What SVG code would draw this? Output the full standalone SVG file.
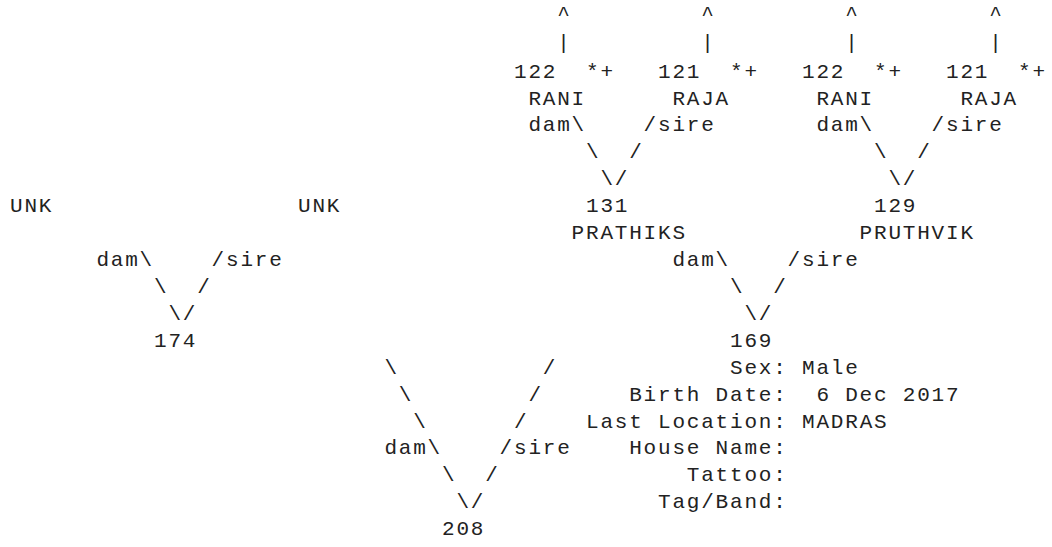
<svg xmlns="http://www.w3.org/2000/svg" width="1052" height="547" viewBox="0 0 1052 547">
<style>
text{font-family:"Liberation Mono","Courier New",monospace;font-size:21px;letter-spacing:1.8px;fill:#222;white-space:pre}
</style>
<rect width="1052" height="547" fill="#fff"/>
<g id="connectors">
<text x="557.2" y="20">^</text><text x="701.2" y="20">^</text><text x="845.2" y="20">^</text><text x="989.2" y="20">^</text>
<text x="557.2" y="49">|</text><text x="701.2" y="49">|</text><text x="845.2" y="49">|</text><text x="989.2" y="49">|</text>
<text x="528.4" y="131.1">dam\</text><text x="643.6" y="131.1">/sire</text>
<text x="816.4" y="131.1">dam\</text><text x="931.6" y="131.1">/sire</text>
<text x="586" y="158.1">\</text><text x="629.2" y="158.1">/</text>
<text x="874" y="158.1">\</text><text x="917.2" y="158.1">/</text>
<text x="600.4" y="185.3">\/</text><text x="888.4" y="185.3">\/</text>
<text x="96.4" y="266.1">dam\</text><text x="211.6" y="266.1">/sire</text>
<text x="672.4" y="266.1">dam\</text><text x="787.6" y="266.1">/sire</text>
<text x="154" y="293">\</text><text x="197.2" y="293">/</text>
<text x="730" y="293">\</text><text x="773.2" y="293">/</text>
<text x="168.4" y="319.9">\/</text><text x="744.4" y="319.9">\/</text>
<text x="384.4" y="373.7">\</text><text x="542.8" y="373.7">/</text>
<text x="398.8" y="400.6">\</text><text x="528.4" y="400.6">/</text>
<text x="413.2" y="427.5">\</text><text x="514" y="427.5">/</text>
<text x="384.4" y="454.4">dam\</text><text x="499.6" y="454.4">/sire</text>
<text x="442" y="481.3">\</text><text x="485.2" y="481.3">/</text>
<text x="456.4" y="508.2">\/</text>
</g>
<g id="node-122-rani-a"><text x="514" y="77.8">122</text><text x="586" y="77.8">*+</text><text x="528.4" y="104.5">RANI</text></g>
<g id="node-121-raja-a"><text x="658" y="77.8">121</text><text x="730" y="77.8">*+</text><text x="672.4" y="104.5">RAJA</text></g>
<g id="node-122-rani-b"><text x="802" y="77.8">122</text><text x="874" y="77.8">*+</text><text x="816.4" y="104.5">RANI</text></g>
<g id="node-121-raja-b"><text x="946" y="77.8">121</text><text x="1018" y="77.8">*+</text><text x="960.4" y="104.5">RAJA</text></g>
<g id="node-unk-dam"><text x="10" y="212.3">UNK</text></g>
<g id="node-unk-sire"><text x="298" y="212.3">UNK</text></g>
<g id="node-131"><text x="586" y="212.3">131</text><text x="571.6" y="239.2">PRATHIKS</text></g>
<g id="node-129"><text x="874" y="212.3">129</text><text x="859.6" y="239.2">PRUTHVIK</text></g>
<g id="node-174"><text x="154" y="346.8">174</text></g>
<g id="node-169">
<text x="730" y="346.8">169</text>
<text x="730" y="373.7">Sex: Male</text>
<text x="629.2" y="400.6">Birth Date:</text><text x="816.4" y="400.6">6 Dec 2017</text>
<text x="586" y="427.5">Last Location: MADRAS</text>
<text x="629.2" y="454.4">House Name:</text>
<text x="686.8" y="481.3">Tattoo:</text>
<text x="658" y="508.2">Tag/Band:</text>
</g>
<g id="node-208"><text x="442" y="535.1">208</text></g>
</svg>
